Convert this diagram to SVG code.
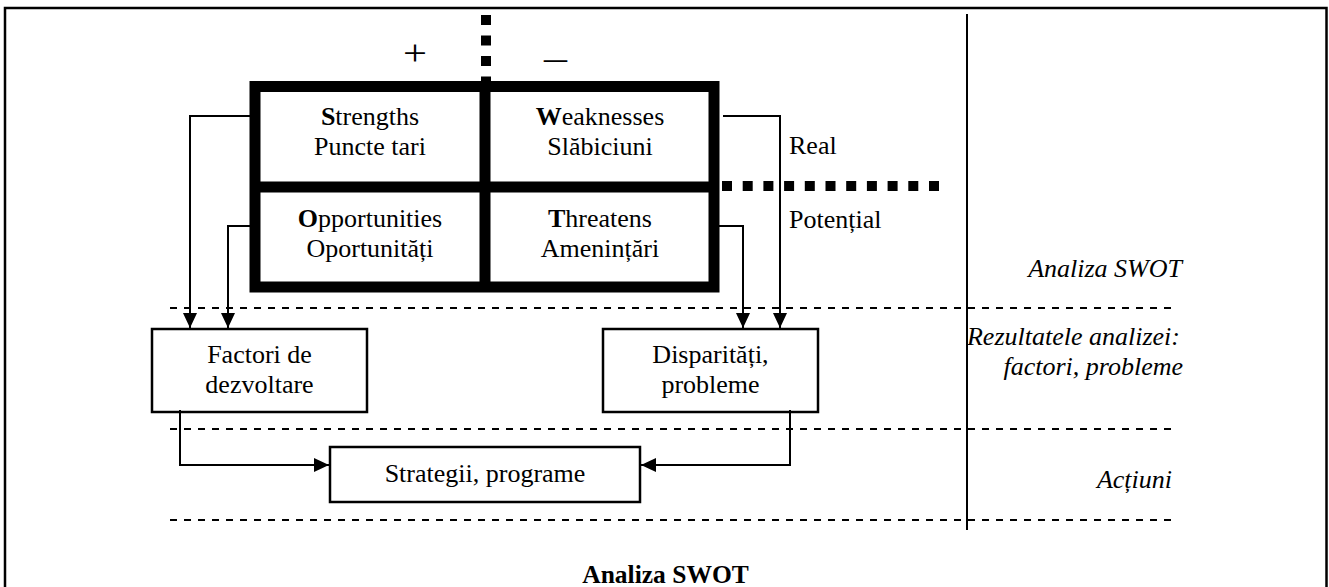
<svg xmlns="http://www.w3.org/2000/svg" width="1329" height="587" viewBox="0 0 1329 587">
  <style>
    text { font-family: "Liberation Serif", "Times New Roman", serif; font-size: 26px; fill: #000; }
    .c { text-anchor: middle; }
    .r { text-anchor: end; font-style: italic; }
    .b { font-weight: bold; }
    .sign { font-size: 36px; }
    .title { font-size: 25.5px; }
    .box { fill: #fff; stroke: #000; stroke-width: 2.5; }
    .grid { fill: none; stroke: #000; stroke-width: 11; }
    .link { fill: none; stroke: #000; stroke-width: 2; }
    .sep { fill: none; stroke: #000; stroke-width: 2; stroke-dasharray: 7 7; }
    .dots { fill: none; stroke: #000; stroke-width: 10; }
  </style>
  <defs>
    <marker id="arrow" markerUnits="userSpaceOnUse" markerWidth="16" markerHeight="16" refX="15" refY="7" orient="auto">
      <path d="M0,0 L15,7 L0,14 z" fill="#000"/>
    </marker>
  </defs>

  <rect width="1329" height="587" fill="#fff"/>
  <!-- outer frame -->
  <rect x="5" y="8" width="1321.5" height="600" fill="none" stroke="#000" stroke-width="2.5"/>

  <!-- layer separators -->
  <g id="separators">
    <line class="sep" x1="170" y1="308" x2="1174" y2="308"/>
    <line class="sep" x1="170" y1="429" x2="1174" y2="429"/>
    <line class="sep" x1="170" y1="520" x2="1174" y2="520"/>
    <line x1="967" y1="14" x2="967" y2="530" stroke="#000" stroke-width="2"/>
  </g>

  <!-- +/- and real/potential dividers -->
  <g id="axes">
    <line class="dots" x1="486" y1="15" x2="486" y2="86" stroke-dasharray="10 10.5"/>
    <line class="dots" x1="722" y1="186" x2="940" y2="186" stroke-dasharray="10 10.7"/>
    <text class="sign" x="403" y="65" textLength="24" lengthAdjust="spacingAndGlyphs">+</text>
    <text class="sign" x="544" y="70" textLength="23" lengthAdjust="spacingAndGlyphs">–</text>
    <text x="789" y="154">Real</text>
    <text x="789" y="228">Potențial</text>
  </g>

  <!-- SWOT matrix -->
  <g id="swot">
    <rect class="grid" x="255" y="86.5" width="459" height="200.5"/>
    <line class="grid" x1="485" y1="86" x2="485" y2="287"/>
    <line class="grid" x1="255" y1="187" x2="714" y2="187"/>
  </g>
  <g id="strengths">
    <text class="c" x="370" y="125"><tspan class="b">S</tspan>trengths</text>
    <text class="c" x="370" y="155">Puncte tari</text>
  </g>
  <g id="weaknesses">
    <text class="c" x="600" y="125"><tspan class="b">W</tspan>eaknesses</text>
    <text class="c" x="600" y="155">Slăbiciuni</text>
  </g>
  <g id="opportunities">
    <text class="c" x="370" y="227"><tspan class="b">O</tspan>pportunities</text>
    <text class="c" x="370" y="257">Oportunități</text>
  </g>
  <g id="threatens">
    <text class="c" x="600" y="227"><tspan class="b">T</tspan>hreatens</text>
    <text class="c" x="600" y="257">Amenințări</text>
  </g>

  <!-- result boxes -->
  <g id="factori">
    <rect class="box" x="152" y="329" width="215" height="83"/>
    <text class="c" x="259.5" y="363">Factori de</text>
    <text class="c" x="259.5" y="393">dezvoltare</text>
  </g>
  <g id="disparitati">
    <rect class="box" x="603" y="329" width="215" height="83"/>
    <text class="c" x="710.5" y="363">Disparități,</text>
    <text class="c" x="710.5" y="393">probleme</text>
  </g>
  <g id="strategii">
    <rect class="box" x="330" y="447" width="310" height="55"/>
    <text class="c" x="485" y="482">Strategii, programe</text>
  </g>

  <!-- connectors -->
  <g id="connectors">
    <polyline class="link" points="250,116 190,116 190,328" marker-end="url(#arrow)"/>
    <polyline class="link" points="250,226 228,226 228,328" marker-end="url(#arrow)"/>
    <polyline class="link" points="723,116 780,116 780,328" marker-end="url(#arrow)"/>
    <polyline class="link" points="719,226 743,226 743,328" marker-end="url(#arrow)"/>
    <polyline class="link" points="180,410 180,465 329,465" marker-end="url(#arrow)"/>
    <polyline class="link" points="790,410 790,465 641,465" marker-end="url(#arrow)"/>
  </g>

  <!-- level labels -->
  <g id="labels">
    <text class="r" x="1182" y="277">Analiza SWOT</text>
    <text class="r" x="1180" y="345">Rezultatele analizei:</text>
    <text class="r" x="1183" y="375">factori, probleme</text>
    <text class="r" x="1172" y="488">Acțiuni</text>
  </g>

  <text id="title" class="c b title" x="665.5" y="583">Analiza SWOT</text>
</svg>
